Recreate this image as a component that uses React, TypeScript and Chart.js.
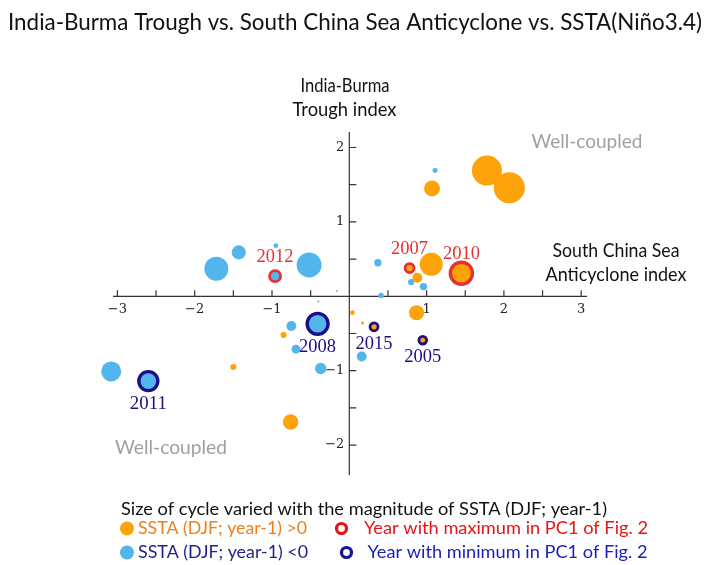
import React, { useEffect, useRef } from "react";
import Chart from "chart.js/auto";

// ---- Data ----
// x: South China Sea Anticyclone index, y: India-Burma Trough index, SSTA (DJF; year-1) in °C
const plainSca = [1.78, 2.07, 1.07, 1.11, 1.06, 0.88, 1.37, 0.37, 0.80, 0.96, 0.41, 0.87, -1.72, -1.43, -0.95, -0.52, -0.16, -0.40, -0.75, -0.85, -0.69, -0.37, 0.04, 0.17, 0.16, -3.08, -1.50, -0.76];
const plainIbt = [1.69, 1.46, 1.45, 1.69, 0.43, 0.25, 0.65, 0.45, 0.19, 0.13, 0.01, -0.22, 0.37, 0.59, 0.68, 0.42, 0.07, -0.07, -0.40, -0.52, -0.71, -0.97, -0.22, -0.36, -0.81, -1.01, -0.95, -1.69];
const plainSsta = [1.88, 1.94, 1.0, -0.31, 1.44, 0.62, 0.19, -0.46, -0.38, -0.46, -0.34, 0.94, -1.5, -0.88, -0.29, -1.56, -0.12, -0.12, -0.62, 0.38, -0.56, -0.71, 0.29, 0.19, -0.62, -1.25, 0.38, 0.96];

const maxYears = ["2012", "2007", "2010"];
const maxSca = [-0.96, 0.78, 1.45];
const maxIbt = [0.27, 0.38, 0.31];
const maxSsta = [-0.69, 0.56, 1.38];

const minYears = ["2008", "2015", "2005", "2011"];
const minSca = [-0.41, 0.32, 0.95, -2.6];
const minIbt = [-0.37, -0.41, -0.59, -1.14];
const minSsta = [-1.31, 0.5, 0.48, -1.19];

const xTickValues = [-3, -2.5, -2, -1.5, -1, -0.5, 0, 0.5, 1, 1.5, 2, 2.5, 3];
const yTickValues = [-2, -1.5, -1, -0.5, 0, 0.5, 1, 1.5, 2];

const TITLE = "India-Burma Trough vs. South China Sea Anticyclone vs. SSTA(Niño3.4)";

const ORANGE = "rgb(255,163,10)";
const BLUE = "rgb(82,181,236)";
const RED = "rgb(232,48,48)";
const NAVY = "rgb(28,14,135)";
const PX_PER_DEG = 8;

const toPoints = (xs: number[], ys: number[], ss: number[]) =>
  xs.map((x, i) => ({ x, y: ys[i], r: Math.abs(ss[i]) * PX_PER_DEG, s: ss[i] }));

function txt(
  ctx: CanvasRenderingContext2D,
  s: string,
  x: number,
  y: number,
  font: string,
  color: string,
  width?: number,
  align: CanvasTextAlign = "center"
) {
  ctx.save();
  ctx.font = font;
  const w = ctx.measureText(s).width;
  const sx = width ? width / w : 1;
  ctx.translate(x, y);
  ctx.scale(sx, 1);
  ctx.textAlign = align;
  ctx.textBaseline = "middle";
  ctx.fillStyle = color;
  ctx.fillText(s, 0, 0);
  ctx.restore();
}

const fmt = (v: number) => (v < 0 ? "\u2212" + Math.abs(v) : String(v));

const crossAxes = {
  id: "crossAxes",
  beforeDatasetsDraw(chart: any) {
    const ctx: CanvasRenderingContext2D = chart.ctx;
    const xs = chart.scales.x;
    const ys = chart.scales.y;
    const x0 = xs.getPixelForValue(0);
    const y0 = ys.getPixelForValue(0);
    ctx.save();
    ctx.strokeStyle = "#333";
    ctx.lineWidth = 1.2;
    ctx.beginPath();
    ctx.moveTo(xs.left, y0);
    ctx.lineTo(xs.right, y0);
    ctx.moveTo(x0, ys.top);
    ctx.lineTo(x0, ys.bottom);
    for (const v of xTickValues) {
      const px = xs.getPixelForValue(v);
      ctx.moveTo(px, y0);
      ctx.lineTo(px, y0 - 6);
    }
    for (const v of yTickValues) {
      const py = ys.getPixelForValue(v);
      ctx.moveTo(x0, py);
      ctx.lineTo(x0 + 7, py);
    }
    ctx.stroke();
    ctx.restore();
    const tf = "13px 'DejaVu Serif'";
    for (const v of xTickValues) {
      if (v === 0 || !Number.isInteger(v)) continue;
      txt(ctx, fmt(v), xs.getPixelForValue(v), y0 + 13, tf, "#222");
    }
    for (const v of yTickValues) {
      if (v === 0 || !Number.isInteger(v)) continue;
      txt(ctx, fmt(v), x0 - 5, ys.getPixelForValue(v), tf, "#222", undefined, "right");
    }
  },
  afterDatasetsDraw(chart: any) {
    const ctx: CanvasRenderingContext2D = chart.ctx;
    const yf = "19px 'Liberation Serif'";
    const mx = chart.getDatasetMeta(2).data;
    maxYears.forEach((yr, i) => {
      const p = mx[i];
      txt(ctx, yr, p.x, p.y - 19, yf, RED, 37);
    });
    const mn = chart.getDatasetMeta(3).data;
    minYears.forEach((yr, i) => {
      const p = mn[i];
      const outer = Math.abs(minSsta[i]) * PX_PER_DEG + 1.5;
      txt(ctx, yr, p.x, p.y + outer + 11.5, yf, NAVY, 37);
    });
  },
  afterDraw(chart: any) {
    const ctx: CanvasRenderingContext2D = chart.ctx;
    const sans = "Lato";
    txt(ctx, TITLE, 355, 23, `23px ${sans}`, "#111", 694);
    txt(ctx, "India-Burma", 345, 86, `19px ${sans}`, "#111", 89);
    txt(ctx, "Trough index", 344.5, 110, `19px ${sans}`, "#111", 104);
    txt(ctx, "South China Sea", 616, 251, `19px ${sans}`, "#111", 127);
    txt(ctx, "Anticyclone index", 616, 275, `19px ${sans}`, "#111", 141);
    txt(ctx, "Well-coupled", 587, 142, `19px ${sans}`, "rgb(160,160,160)", 111);
    txt(ctx, "Well-coupled", 171, 448, `19px ${sans}`, "rgb(160,160,160)", 112);

    txt(ctx, "Size of cycle varied with the magnitude of SSTA (DJF; year-1)", 364, 509.5, `18px ${sans}`, "#111", 486);
    // legend markers
    ctx.save();
    ctx.fillStyle = ORANGE;
    ctx.beginPath();
    ctx.arc(127, 528.5, 7, 0, Math.PI * 2);
    ctx.fill();
    ctx.fillStyle = BLUE;
    ctx.beginPath();
    ctx.arc(127, 552.5, 7, 0, Math.PI * 2);
    ctx.fill();
    ctx.lineWidth = 3.2;
    ctx.strokeStyle = "rgb(230,20,20)";
    ctx.beginPath();
    ctx.arc(341.5, 528.5, 5, 0, Math.PI * 2);
    ctx.stroke();
    ctx.strokeStyle = "rgb(20,20,150)";
    ctx.beginPath();
    ctx.arc(346.5, 552.5, 5, 0, Math.PI * 2);
    ctx.stroke();
    ctx.restore();
    txt(ctx, "SSTA (DJF; year-1) >0", 138, 528.5, `18px ${sans}`, "rgb(236,128,28)", 169, "left");
    txt(ctx, "SSTA (DJF; year-1) <0", 138, 552.5, `18px ${sans}`, "rgb(30,30,140)", 170, "left");
    txt(ctx, "Year with maximum in PC1 of Fig. 2", 364, 528.5, `18px ${sans}`, "rgb(230,20,20)", 284, "left");
    txt(ctx, "Year with minimum in PC1 of Fig. 2", 367.5, 552.5, `18px ${sans}`, "rgb(25,30,185)", 280, "left");
  },
};

export default function App() {
  const ref = useRef<HTMLCanvasElement | null>(null);
  useEffect(() => {
    if (!ref.current) return;
    const plain = toPoints(plainSca, plainIbt, plainSsta);
    const maxPts = toPoints(maxSca, maxIbt, maxSsta);
    const minPts = toPoints(minSca, minIbt, minSsta);
    const fill = (c: any) => ((c.raw && c.raw.s > 0) ? ORANGE : BLUE);
    const ringW = (c: any) => ((c.raw && c.raw.r >= 9) ? 3.4 : 2.8);
    const chart = new Chart(ref.current, {
      type: "bubble",
      data: {
        datasets: [
          { label: "SSTA>0", data: plain.filter((p) => p.s > 0), backgroundColor: ORANGE, borderWidth: 0, clip: false } as any,
          { label: "SSTA<0", data: plain.filter((p) => p.s <= 0), backgroundColor: BLUE, borderWidth: 0, clip: false } as any,
          { label: "max", data: maxPts, backgroundColor: fill, borderColor: RED, borderWidth: ringW, clip: false } as any,
          { label: "min", data: minPts, backgroundColor: fill, borderColor: NAVY, borderWidth: ringW, clip: false } as any,
        ],
      },
      options: {
        responsive: false,
        animation: false,
        devicePixelRatio: 1,
        events: [],
        layout: { padding: { left: 113, right: 122, top: 132, bottom: 90 }, autoPadding: false } as any,
        scales: {
          x: { type: "linear", min: -3.057, max: 3.075, display: false },
          y: { type: "linear", min: -2.402, max: 2.208, display: false },
        },
        plugins: { legend: { display: false }, tooltip: { enabled: false }, title: { display: false } },
      },
      plugins: [crossAxes],
    });
    return () => chart.destroy();
  }, []);
  return (
    <div style={{ position: "fixed", left: 0, top: 0, width: 709, height: 565, background: "#fff" }}>
      <canvas ref={ref} width={709} height={565} style={{ display: "block" }} />
    </div>
  );
}
